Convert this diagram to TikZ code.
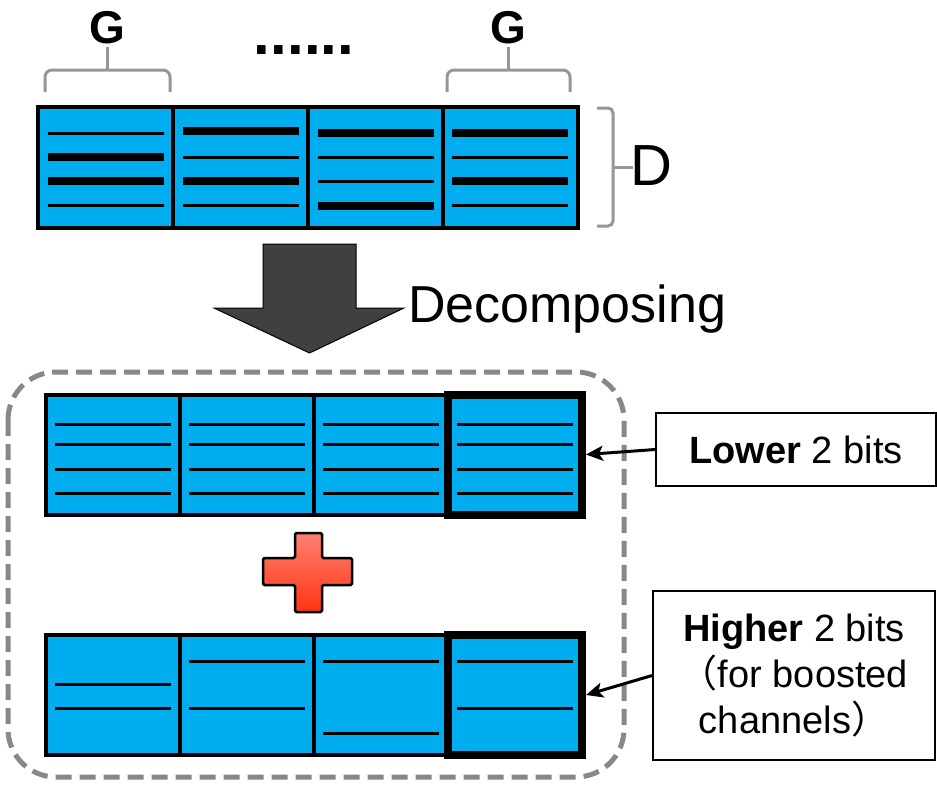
\documentclass[tikz,border=0pt]{standalone}
\usepackage{fontspec}
\setmainfont{Liberation Sans}
\newfontfamily\cjk{Noto Sans CJK SC}
\usetikzlibrary{arrows.meta,calc}
\definecolor{cellc}{RGB}{0,174,239}
\definecolor{bracec}{RGB}{150,150,150}
\definecolor{framec}{RGB}{136,136,136}
\definecolor{arrc}{RGB}{64,64,64}
\definecolor{plustop}{RGB}{255,128,112}
\definecolor{plusbot}{RGB}{255,52,20}
\tikzset{blk/.style={draw,line width=4pt,fill=cellc,minimum width=134pt,minimum height=120pt,inner sep=0pt},
 bigblk/.style={blk,line width=8pt},
 thinbit/.style={line width=3pt},fatbit/.style={line width=8.5pt},
 brc/.style={draw=bracec,line width=3pt,rounded corners=7pt},
 frame/.style={draw=framec,line width=5pt,dash pattern=on 16pt off 8pt,rounded corners=48pt},
 lbl/.style={draw,line width=1.8pt,inner sep=0pt,align=center,font=\fontsize{38}{46}\selectfont},
 arr/.style={-{Stealth[length=17pt,width=15pt,inset=4pt]},line width=3pt}}

\begin{document}
\begin{tikzpicture}[x=1pt,y=-1pt]
\useasboundingbox (0,0) rectangle (937,785);
% original weights
\node[blk,minimum width=135pt,minimum height=121pt] (t1) at (105.5,167.5) {};
\node[blk,minimum width=135pt,minimum height=121pt] (t2) at (240.5,167.5) {};
\node[blk,minimum width=135pt,minimum height=121pt] (t3) at (375.5,167.5) {};
\node[blk,minimum width=135pt,minimum height=121pt] (t4) at (510,167.5) {};
\foreach \c/\y/\w in {t1/133/thinbit,t1/157/fatbit,t1/181/fatbit,t1/205/thinbit,
  t2/131/fatbit,t2/157/thinbit,t2/181/fatbit,t2/205/thinbit,
  t3/133/fatbit,t3/157/thinbit,t3/181/thinbit,t3/206/fatbit,
  t4/133/fatbit,t4/157/thinbit,t4/181/fatbit,t4/205/thinbit}
  \draw[\w] ($(\c.center|-0,\y)+(-58,0)$) -- ($(\c.center|-0,\y)+(58,0)$);
\draw[brc] (45,92) -- (45,70) -- (170,70) -- (170,92);
\draw[brc,rounded corners=0pt] (107.5,70) -- (107.5,47);
\draw[brc] (447,92) -- (447,70) -- (570,70) -- (570,92);
\draw[brc,rounded corners=0pt] (508.5,70) -- (508.5,47);
\node[font=\fontsize{46}{50}\selectfont\bfseries] (g1) at (107.5,28) {G};
\node[font=\fontsize{46}{50}\selectfont\bfseries] (g2) at (508.5,28) {G};
\node[font=\fontsize{60}{60}\selectfont\bfseries,inner sep=0pt] (dots) at (304,50) {......};
\draw[brc,rounded corners=5pt] (597,108) -- (613,108) -- (613,226) -- (597,226);
\draw[brc,rounded corners=0pt] (613,167) -- (633,167);
\node[anchor=west,inner sep=0pt,font=\fontsize{58}{60}\selectfont] (dlab) at (630,166) {D};
% decomposing
\draw[fill=arrc,line width=1pt] (263,244) -- (356,244) -- (356,308) -- (404,308) -- (309.5,353) -- (214,308) -- (263,308) -- cycle;
\node[anchor=base west,inner sep=0pt,font=\fontsize{52}{60}\selectfont] (dec) at (408,322) {Decomposing};
\draw[frame] (8,372) rectangle (624,777);
% lower bits
\node[blk] (m1) at (113,454.5) {};
\node[blk] (m2) at (247,454.5) {};
\node[blk] (m3) at (381,454.5) {};
\node[bigblk] (m4) at (515,454.5) {};
\foreach \c in {m1,m2,m3,m4}
  \foreach \y in {424,444,469,493}
    \draw[thinbit] ($(\c.center|-0,\y)+(-58,0)$) -- ($(\c.center|-0,\y)+(58,0)$);
\path[draw,line width=2.5pt,rounded corners=1.5pt,top color=plustop,bottom color=plusbot]
  (295,533) -- (322,533) -- (322,558) -- (352,558) -- (352,585) -- (322,585) -- (322,612)
  -- (295,612) -- (295,585) -- (263,585) -- (263,558) -- (295,558) -- cycle;
% higher bits
\node[blk] (b1) at (113,695) {};
\node[blk] (b2) at (247,695) {};
\node[blk] (b3) at (381,695) {};
\node[bigblk] (b4) at (515,695) {};
\foreach \c/\y in {b1/684,b1/708,b2/661,b2/708,b3/661,b3/733,b4/661,b4/708}
  \draw[thinbit] ($(\c.center|-0,\y)+(-58,0)$) -- ($(\c.center|-0,\y)+(58,0)$);
\node[lbl,minimum width=280pt,minimum height=73pt] (lo) at (796,449.5) {\textbf{Lower} 2 bits};
\node[lbl,minimum width=282pt,minimum height=169pt] (hi) at (794,675.5)
  {\textbf{Higher} 2 bits\\{\cjk （}for boosted\\channels{\cjk ）}};
\draw[arr] (lo.west) -- (m4.east);
\draw[arr] (hi.west) -- (b4.east);
\end{tikzpicture}
\end{document}
